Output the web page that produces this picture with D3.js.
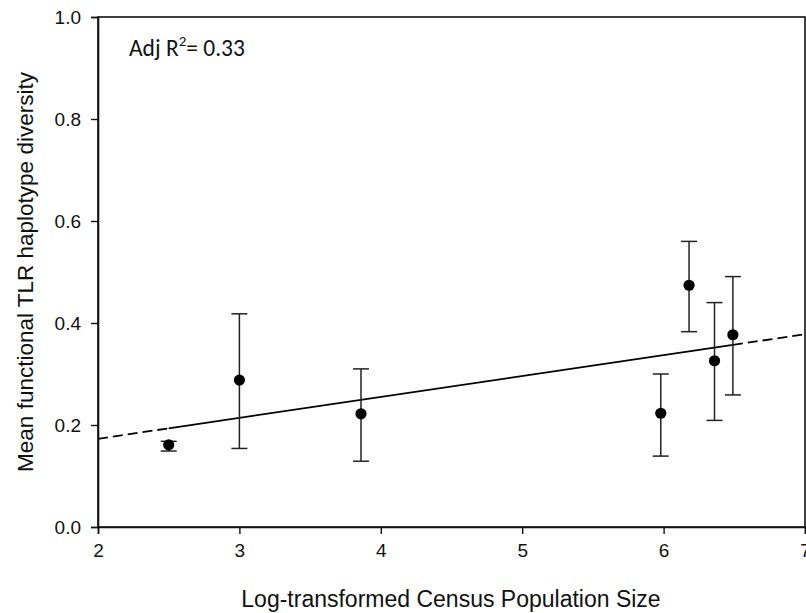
<!DOCTYPE html>
<html>
<head>
<meta charset="utf-8">
<script src="https://cdn.jsdelivr.net/npm/d3@7"></script>
<style>
  html, body { margin: 0; padding: 0; background: #fff; }
  svg { display: block; }
</style>
</head>
<body>
<svg id="chart" width="806" height="613"></svg>
<script>
// Population means with error-bar limits
const logCensus = [2.50, 3.00, 3.86, 5.98, 6.18, 6.36, 6.49];
const meanDiversity = [0.161, 0.288, 0.222, 0.223, 0.474, 0.326, 0.377];
const upperLimit = [0.168, 0.418, 0.310, 0.300, 0.560, 0.440, 0.491];
const lowerLimit = [0.149, 0.154, 0.129, 0.139, 0.383, 0.209, 0.259];

// Fitted regression
const fitIntercept = 0.091;
const fitSlope = 0.041;
const adjR2 = "0.33";

const xTicks = [2, 3, 4, 5, 6, 7];
const yTicks = [0.0, 0.2, 0.4, 0.6, 0.8, 1.0];

const svg = d3.select("#chart");
const margin = { left: 98, right: 1, top: 17, bottom: 86 };
const W = 806, H = 613;

const x = d3.scaleLinear().domain([2, 7]).range([margin.left, W - margin.right]);
const y = d3.scaleLinear().domain([0, 1]).range([H - margin.bottom, margin.top]);

const tickFont = "'Liberation Sans', Arial, sans-serif";

// Frame
svg.append("rect")
  .attr("x", x(2)).attr("y", y(1))
  .attr("width", x(7) - x(2)).attr("height", y(0) - y(1))
  .attr("fill", "none").attr("stroke", "#111").attr("stroke-width", 1.6);

// Axes
const xAxis = svg.append("g")
  .attr("transform", `translate(0,${y(0)})`)
  .call(d3.axisBottom(x).tickValues(xTicks).tickFormat(d3.format("d")).tickSize(7).tickPadding(10));
const yAxis = svg.append("g")
  .attr("transform", `translate(${x(2)},0)`)
  .call(d3.axisLeft(y).tickValues(yTicks).tickFormat(d3.format(".1f")).tickSize(7).tickPadding(10));

[xAxis, yAxis].forEach(g => {
  g.select(".domain").attr("stroke", "#111").attr("stroke-width", 1.6);
  g.selectAll(".tick line").attr("stroke", "#111").attr("stroke-width", 1.4);
  g.selectAll(".tick text").attr("fill", "#111")
    .style("font-family", tickFont).style("font-size", "19px");
});

// Regression line: solid over the data range, dashed beyond it
const xMin = d3.min(logCensus), xMax = d3.max(logCensus);
const fit = v => fitIntercept + fitSlope * v;
const segments = [
  { a: 2, b: xMin, dash: "10,5" },
  { a: xMin, b: xMax, dash: null },
  { a: xMax, b: 7, dash: "10,5" }
];
svg.append("g").selectAll("line").data(segments).join("line")
  .attr("x1", d => x(d.a)).attr("y1", d => y(fit(d.a)))
  .attr("x2", d => x(d.b)).attr("y2", d => y(fit(d.b)))
  .attr("stroke", "#000").attr("stroke-width", 1.8)
  .attr("stroke-dasharray", d => d.dash);

// Error bars
const pts = logCensus.map((v, i) => ({ x: v, y: meanDiversity[i], hi: upperLimit[i], lo: lowerLimit[i] }));
const bars = svg.append("g").attr("stroke", "#222").attr("stroke-width", 1.5);
bars.selectAll("line.v").data(pts).join("line").attr("class", "v")
  .attr("x1", d => x(d.x)).attr("x2", d => x(d.x))
  .attr("y1", d => y(d.hi)).attr("y2", d => y(d.lo));
bars.selectAll("line.hi").data(pts).join("line").attr("class", "hi")
  .attr("x1", d => x(d.x) - 8).attr("x2", d => x(d.x) + 8)
  .attr("y1", d => y(d.hi)).attr("y2", d => y(d.hi));
bars.selectAll("line.lo").data(pts).join("line").attr("class", "lo")
  .attr("x1", d => x(d.x) - 8).attr("x2", d => x(d.x) + 8)
  .attr("y1", d => y(d.lo)).attr("y2", d => y(d.lo));

// Points
svg.append("g").selectAll("circle").data(pts).join("circle")
  .attr("cx", d => x(d.x)).attr("cy", d => y(d.y)).attr("r", 5.6)
  .attr("fill", "#000");

// Axis titles
svg.append("text")
  .attr("x", 451).attr("y", 607)
  .attr("text-anchor", "middle")
  .style("font-family", tickFont).style("font-size", "23px").attr("fill", "#111")
  .text("Log-transformed Census Population Size");
svg.append("text")
  .attr("transform", `translate(33,${(y(0) + y(1)) / 2}) rotate(-90)`)
  .attr("text-anchor", "middle")
  .style("font-family", tickFont).style("font-size", "22.5px").attr("fill", "#111")
  .text("Mean functional TLR haplotype diversity");

// Fit annotation
const note = svg.append("text")
  .attr("x", 129).attr("y", 56)
  .style("font-family", "Carlito, Lato, 'Open Sans', sans-serif").style("font-size", "23.5px").attr("fill", "#111");
note.append("tspan").text("Adj R");
note.append("tspan").attr("dy", -10).style("font-size", "15px").text("2");
note.append("tspan").attr("dy", 10).text("= " + adjR2);
</script>
</body>
</html>
